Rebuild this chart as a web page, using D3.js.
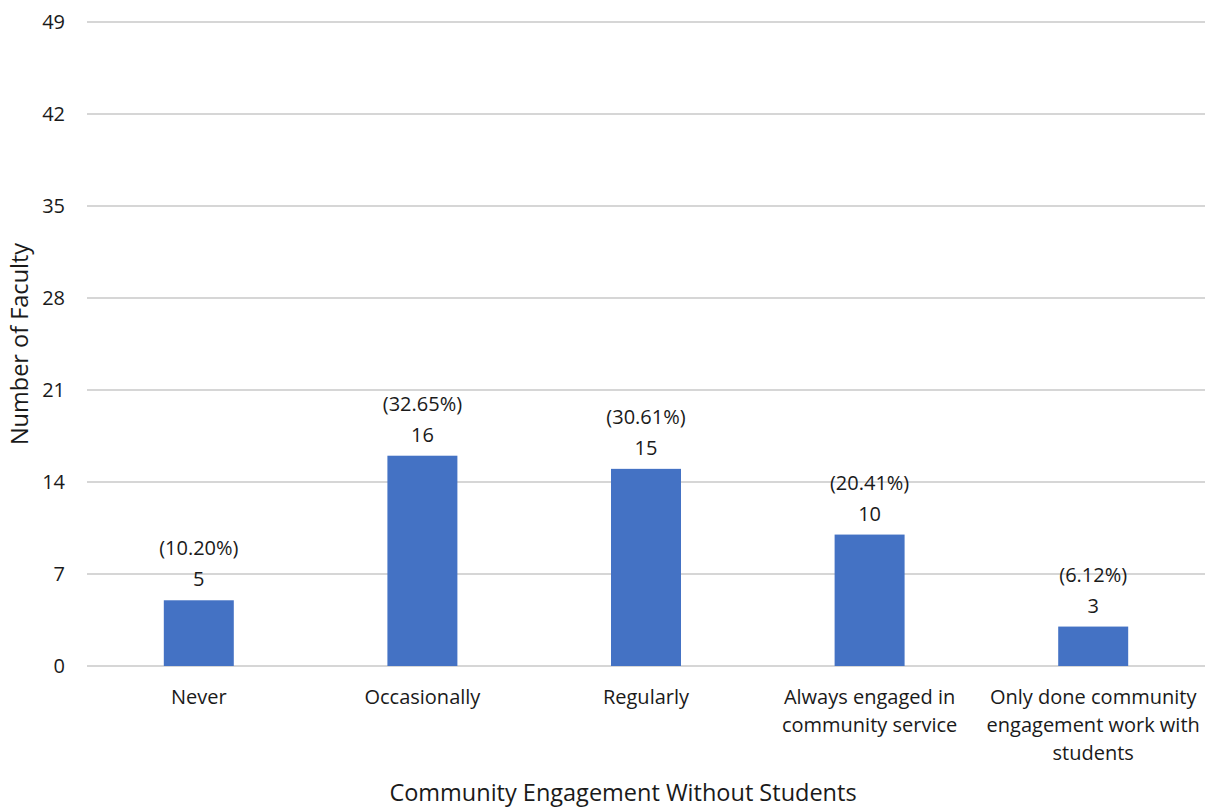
<!DOCTYPE html>
<html><head><meta charset="utf-8">
<script src="https://cdn.jsdelivr.net/npm/d3@7"></script>
<style>body{margin:0;background:#fff;} text{font-family:"Open Sans","Noto Sans",sans-serif;fill:#1a1a1a;}</style>
</head><body>
<svg id="c" width="1214" height="808"></svg>
<script>
const categories = [["Never"],["Occasionally"],["Regularly"],["Always engaged in","community service"],["Only done community","engagement work with","students"]];
const counts = [5, 16, 15, 10, 3];
const percents = ["(10.20%)","(32.65%)","(30.61%)","(20.41%)","(6.12%)"];
const yTicks = [0, 7, 14, 21, 28, 35, 42, 49];
const xTitle = "Community Engagement Without Students";
const yTitle = "Number of Faculty";

(function () {
const svg = d3.select("#c");
const mL = 87, mR = 1205, mT = 22, mB = 666;
const x = d3.scaleBand().domain(d3.range(categories.length)).range([mL, mR]).paddingInner(0).paddingOuter(0);
const y = d3.scaleLinear().domain([0, 49]).range([mB, mT]);
const barW = x.bandwidth() * 0.313;
const fs = 20;

svg.append("g").selectAll("line").data(yTicks).join("line")
  .attr("x1", mL).attr("x2", mR)
  .attr("y1", d => y(d)).attr("y2", d => y(d))
  .attr("stroke", "#c8c8c8").attr("stroke-width", 1.5);

svg.append("g").selectAll("text").data(yTicks).join("text")
  .attr("x", 65).attr("y", d => y(d)).attr("dy", "0.35em")
  .attr("text-anchor", "end").attr("font-size", fs).text(d => d);

svg.append("g").selectAll("rect").data(counts).join("rect")
  .attr("x", (d, i) => x(i) + x.bandwidth() / 2 - barW / 2)
  .attr("width", barW)
  .attr("y", d => y(d)).attr("height", d => y(0) - y(d))
  .attr("fill", "#4472C4");

svg.append("g").selectAll("text").data(counts).join("text")
  .attr("x", (d, i) => x(i) + x.bandwidth() / 2)
  .attr("y", d => y(d) - 14)
  .attr("text-anchor", "middle").attr("font-size", fs).text(d => d);
svg.append("g").selectAll("text").data(percents).join("text")
  .attr("x", (d, i) => x(i) + x.bandwidth() / 2)
  .attr("y", (d, i) => y(counts[i]) - 45)
  .attr("text-anchor", "middle").attr("font-size", fs).text(d => d);

const cg = svg.append("g").selectAll("text").data(categories).join("text")
  .attr("x", (d, i) => x(i) + x.bandwidth() / 2)
  .attr("y", 704).attr("text-anchor", "middle").attr("font-size", fs);
cg.selectAll("tspan").data(d => d).join("tspan")
  .attr("x", function() { return this.parentNode.getAttribute("x"); })
  .attr("dy", (d, j) => j === 0 ? 0 : 28).text(d => d);

svg.append("text").attr("x", (mL + mR) / 2 - 23).attr("y", 801)
  .attr("text-anchor", "middle").attr("font-size", 23.5).text(xTitle);
svg.append("text").attr("transform", `translate(28,${(mT + mB) / 2}) rotate(-90)`)
  .attr("text-anchor", "middle").attr("font-size", 23.5).text(yTitle);
})();
</script>
</body></html>
